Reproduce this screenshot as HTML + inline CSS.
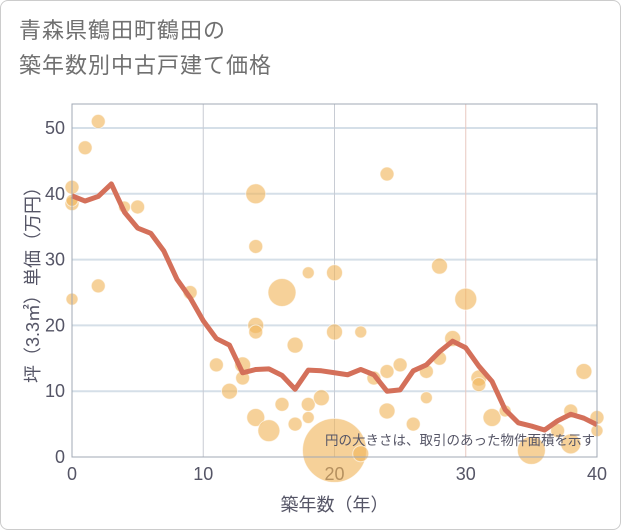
<!DOCTYPE html>
<html><head><meta charset="utf-8"><style>
body{margin:0;background:#fff;}
#wrap{position:relative;width:619px;height:528px;border:1px solid #ccc;border-radius:8px;overflow:hidden;background:#fff;font-family:"Liberation Sans","Noto Sans CJK JP",sans-serif;}
#title{position:absolute;left:18px;top:12px;font-size:22px;line-height:35px;color:#707070;letter-spacing:1px;}
svg text{font-family:"Liberation Sans","Noto Sans CJK JP",sans-serif;}
</style></head><body>
<div id="wrap">
<div id="title">青森県鶴田町鶴田の<br>築年数別中古戸建て価格</div>
<svg id="chart" width="619" height="528" style="position:absolute;left:0;top:0"></svg>
</div>
<script>
const xTicks=[0,10,20,30,40];
const yTicks=[0,10,20,30,40,50];
const lineYears=[0,1,2,3,4,5,6,7,8,9,10,11,12,13,14,15,16,17,18,19,20,21,22,23,24,25,26,27,28,29,30,31,32,33,34,35,36,37,38,39,40];
const lineValues=[39.7,38.9,39.6,41.5,37.2,34.8,34,31.3,27,24.2,20.7,18,17,12.8,13.3,13.4,12.4,10.3,13.2,13.1,12.8,12.5,13.3,12.5,10,10.2,13.1,14,16,17.6,16.6,13.8,11.5,7.2,5.2,4.7,4.1,5.5,6.5,5.9,4.9];
const bubbleX=[0,0,0,0,1,2,2,4,5,9,11,12,13,13,14,14,14,14,14,15,16,16,17,17,18,18,18,19,20,20,20,22,22,23,24,24,24,25,26,27,27,28,28,29,30,31,31,32,33,35,37,38,38,39,40,40];
const bubbleY=[41,38.5,39,24,47,51,26,38,38,25,14,10,14,12,40,32,20,19,6,4,25,8,17,5,28,8,6,9,28,19,1,19,0.5,12,43,13,7,14,5,13,9,29,15,18,24,12,11,6,7,1,4,7,2,13,6,4];
const bubbleSize=[7,7,6,6,7,7,7,6,7,7,7,8,8,7,10,7,8,7,9,11,14,7,8,7,6,7,6,8,8,8,32,6,8,7,7,7,8,7,7,7,6,8,7,8,11,8,7,9,6,14,7,7,10,8,7,6];
const L=71,R=596,T=103,B=456;
const xS=v=>L+(v-0)/(40-0)*(R-L);
const yS=v=>B-(v-0)/(50)*(B-127)*1;
const ns="http://www.w3.org/2000/svg";
const svg=document.getElementById('chart');
function mk(tag,attrs,parent){const e=document.createElementNS(ns,tag);for(const k in attrs)e.setAttribute(k,attrs[k]);(parent||svg).appendChild(e);return e;}
const grid=mk('g',{});


yTicks.forEach(t=>{if(t>0){const l=mk('line',{x1:L,x2:R,y1:yS(t),y2:yS(t),stroke:'#d5dfe8','stroke-width':2},grid);}
 const tx=mk('text',{x:L-7,y:yS(t)+6,'text-anchor':'end','font-size':18,fill:'#556'});tx.textContent=t;
 
 });
xTicks.forEach(t=>{if(t>0&&t<40){const l=mk('line',{x1:xS(t),x2:xS(t),y1:T,y2:B,stroke:t==30?'#e8c8c0':'#c8ccd4','stroke-width':1},grid);}
 const tx=mk('text',{x:xS(t),y:B+23,'text-anchor':'middle','font-size':18,fill:'#556'});tx.textContent=t;
 
 });
const bg=mk('g',{});


bubbleX.forEach((x,i)=>{const c=mk('circle',{cx:xS(x),cy:yS(bubbleY[i]),r:bubbleSize[i],fill:'rgba(240,180,90,0.62)',stroke:'rgba(255,255,255,0.6)','stroke-width':1},bg);
 
 });
const pts=lineYears.map((x,i)=>xS(x)+','+yS(lineValues[i])).join(' ');
const pl=mk('polyline',{points:pts,fill:'none',stroke:'#d4705a','stroke-width':5,'stroke-linejoin':'round'});


const fr=mk('rect',{x:L,y:T,width:R-L,height:B-T,fill:'none',stroke:'#a0a8b4','stroke-width':1});


const note=mk('text',{x:R-2,y:444,'text-anchor':'end','font-size':13.5,fill:'#556'});note.textContent='円の大きさは、取引のあった物件面積を示す';


const xt=mk('text',{x:(L+R)/2,y:510,'text-anchor':'middle','font-size':18,fill:'#556'});xt.textContent='築年数（年）';


const yt=mk('text',{x:0,y:0,'text-anchor':'middle','font-size':18,fill:'#556',transform:'translate(38,'+((T+B)/2)+') rotate(-90)'});yt.textContent='坪（3.3㎡）単価（万円）';


</script>
</body></html>
